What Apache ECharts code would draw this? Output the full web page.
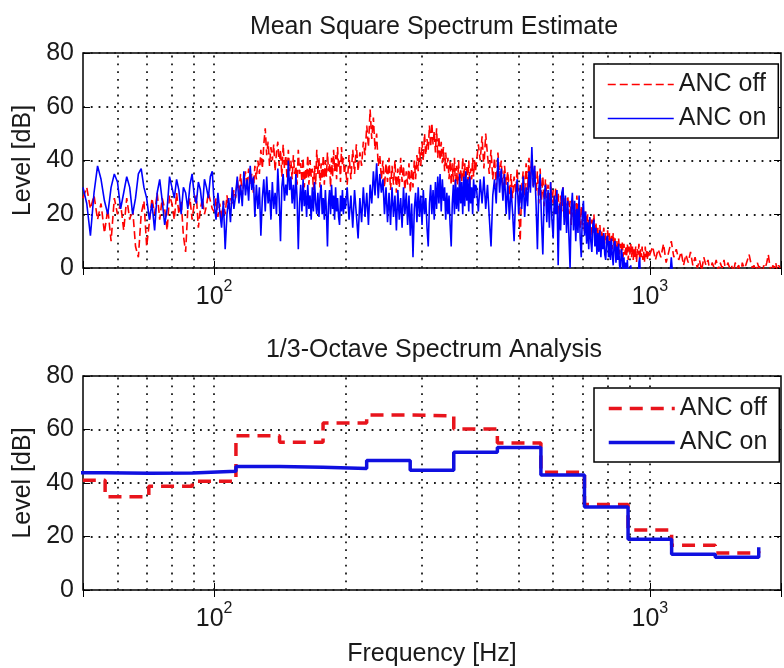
<!DOCTYPE html>
<html><head><meta charset="utf-8">
<script src="https://cdn.jsdelivr.net/npm/echarts@6/dist/echarts.min.js"></script>
<style>html,body{margin:0;padding:0;background:#fff}#c{width:784px;height:668px}</style>
</head><body><div id="c"></div>
<script>
const FONT = '"Liberation Sans", Arial, Helvetica, sans-serif';
const TXT = '#1a1a1a';

// Mean square spectrum: frequency bins given as (start Hz, step Hz, count)
const binStart = [50, 100, 200, 400, 1000];
const binStep  = [1, 1, 2, 4, 15];
const binCount = [50, 100, 100, 150, 67];

// Mean square spectrum levels [dB], ANC off
const mssOff = [
  // 50-99 Hz
  26,30,22,27,18,24,13,22,10,26, 20,24,14,26,18,22,8,4,20,25, 8,17,26,20,28,18,26,22,14,27,
  24,18,28,20,25,12,6,22,26,18, 24,27,15,22,26,20,23,28,25,22,
  // 100-199 Hz
  21,26,19,24,18,25,20,27,22,26, 24,29,26,33,28,35,27,32,36,30, 37,31,35,28,38,33,40,35,44,37,
  46,52,42,47,38,45,40,46,36,43, 47,38,44,34,46,37,42,33,44,36, 40,33,42,35,38,31,44,35,39,32,
  41,30,37,33,42,31,40,34,37,29, 38,31,44,35,41,30,39,33,42,31, 40,34,43,36,39,30,41,34,44,36,
  42,33,45,37,40,32,45,38,41,35,
  // 200-398 Hz
  38,31,42,33,44,35,46,36,43,38, 47,42,53,45,59,48,56,44,50,38, 42,33,40,30,39,32,41,29,38,31,
  40,28,37,30,41,32,38,29,36,31, 39,28,37,30,40,33,42,36,45,38, 47,40,50,42,48,44,53,45,54,46,
  51,43,52,41,49,40,47,39,45,36, 43,37,41,33,40,31,39,32,41,30, 38,31,40,30,37,32,41,33,39,30,
  38,32,40,31,37,33,41,34,40,36,
  // 400-996 Hz
  36,46,40,49,37,50,42,35,44,33, 41,30,43,34,40,29,38,31,36,27, 35,26,34,28,37,24,10,30,36,27,
  39,29,41,33,42,30,38,28,36,24, 37,25,34,23,33,26,31,22,32,24, 29,20,30,22,28,18,27,21,30,19,
  26,17,27,20,25,16,26,19,24,17, 27,18,25,15,23,16,22,13,21,14, 20,12,19,11,18,13,20,12,17,10,
  15,10,16,9,14,11,15,9,13,10, 14,8,13,9,12,7,13,8,11,7, 10,6,11,5,9,6,10,4,9,5,
  8,4,9,3,8,5,9,4,8,3, 7,4,8,2,7,5,9,3,7,4, 8,3,6,2,8,4,7,3,6,4,
  // 1000-1990 Hz
  5,8,3,7,4,9,2,6,10,4, 7,3,6,1,5,2,6,1,4,0, 3,-1,4,1,3,-2,2,0,3,-1, 2,0,3,-2,2,0,1,-2,2,0,
  1,-3,2,0,1,3,5,2,0,1, -2,2,0,1,-3,1,0,2,5,1, -2,1,0,2,-1,1,0
];
// Mean square spectrum levels [dB], ANC on
const mssOn = [
  // 50-99 Hz
  30,24,12,28,38,33,25,20,30,35, 32,22,28,34,30,20,26,35,37,30, 26,18,24,14,28,33,25,16,22,34,
  30,26,33,29,20,30,28,22,31,35, 27,24,32,29,22,33,30,26,34,36,
  // 100-199 Hz
  24,18,28,21,15,25,7,20,26,17, 30,22,27,34,24,31,23,36,27,33, 25,38,29,34,19,31,22,30,12,26,
  33,21,34,24,29,18,32,22,28,20, 37,26,10,30,35,25,31,27,40,29, 34,24,31,22,35,26,7,24,31,21,
  33,23,29,19,31,22,27,18,30,21, 32,24,20,28,19,27,31,20,26,18, 29,21,8,24,29,20,31,22,27,18,
  30,21,26,19,16,27,21,29,20,26,
  // 200-398 Hz
  22,30,18,27,15,29,20,11,26,17, 30,19,28,16,31,24,36,27,39,26, 35,28,33,20,30,17,28,16,30,19,
  27,14,29,18,26,15,30,20,28,16, 27,12,24,4,22,28,17,30,19,27, 16,29,20,26,15,8,24,31,20,29,
  18,32,22,34,24,35,21,33,25,30, 18,28,20,27,16,8,24,31,20,33, 22,30,21,35,24,32,20,34,23,36,
  25,33,21,34,24,30,20,33,26,31,
  // 400-996 Hz
  30,21,33,24,34,22,31,19,8,27, 33,24,41,28,37,25,35,20,32,18, 30,21,10,27,33,20,31,22,34,19,
  30,23,36,28,45,30,38,24,7,29, 35,18,5,27,31,17,29,15,32,18, 11,27,20,29,1,24,14,28,30,16,
  27,13,25,12,0,22,28,14,25,10, 22,13,27,11,4,20,25,12,21,9, 17,7,19,10,6,16,18,8,15,5,
  13,6,14,4,12,7,13,5,3,11, 12,4,10,3,11,5,1,9,10,2, 8,3,9,1,-1,7,5,-2,4,-3,
  2,-4,3,-5,0,-6,1,-7,-3,-9, -1,-10,-5,-11,-6,-12,2,4,-8,-12, -9,-13,-10,-14,-11,-13,-10,-14,-11,-13,
  // 1000-1990 Hz
  -6,-10,-3,-12,-8,-14,-6,-10,4,-8, -14,-10,-16,-12,-18,-14,-20,-15,-18,-22,
  -16,-20,-24,-18,-22,-20,-25,-19,-23,-21, -26,-20,-24,-22,-27,-21,-25,-23,-28,-22,
  -26,-24,-28,-23,-27,-25,-29,-24,-28,-26, -30,-25,-29,-27,-30,-26,-30,-28,-31,-27,
  -30,-29,-32,-28,-31,-29,-32
];

// 1/3-octave analysis: band lower edges [Hz] (last entry = upper edge of last band)
const bandEdges = [44.7, 56.2, 70.8, 89.1, 112.2, 141.3, 177.8, 223.9, 281.8, 354.8, 446.7, 562.3, 707.9, 891.3, 1122, 1413, 1778];
const octOff = [41.0, 34.9, 38.8, 40.7, 57.7, 55.2, 62.4, 65.4, 65.1, 60.2, 55.0, 44.0, 32.0, 22.4, 16.7, 13.8, 14.5];
const octOn  = [43.8, 43.6, 43.7, 44.4, 46.2, 45.9, 45.4, 48.4, 44.8, 51.5, 53.3, 43.0, 31.0, 19.0, 13.4, 12.2, 16.0];

// axis settings
const freqMin = 50, freqMax = 2000;
const levelMin = 0, levelMax = 80, levelStep = 20;
const gridFreqs = [60, 70, 80, 90, 100, 200, 300, 400, 500, 600, 700, 800, 900, 1000];

const mssFreq = [];
binStart.forEach((s, i) => { for (let k = 0; k < binCount[i]; k++) mssFreq.push(s + k * binStep[i]); });

const chart = echarts.init(document.getElementById('c'), null, {renderer: 'canvas'});

const dotted = {color: '#1c1c1c', width: 1.8, type: [1.8, 6]};
const GRIDS = [{left: 83, top: 53, width: 705, height: 215}, {left: 83, top: 376, width: 705, height: 215}];

function xAxes(gi) {
  const base = {
    type: 'log', logBase: 10, min: freqMin, max: freqMax, gridIndex: gi,
    axisLine: {show: false}, splitLine: {show: false}, minorTick: {show: false}
  };
  return [
    Object.assign({}, base, {
      position: 'bottom',
      axisTick: {show: true, inside: true, length: 7, lineStyle: {color: '#000', width: 1}},
      axisLabel: {
        margin: 11,
        formatter: v => {
          const e = Math.log10(v), r = Math.round(e);
          return Math.abs(e - r) < 1e-6 ? '{b|10}{s|' + r + '}' : '';
        },
        rich: {
          b: {fontSize: 25, fontFamily: FONT, color: TXT, verticalAlign: 'bottom'},
          s: {fontSize: 16, fontFamily: FONT, color: TXT, padding: [0, 0, 15, 0], verticalAlign: 'bottom'}
        }
      },
      name: gi === 1 ? 'Frequency [Hz]' : '', nameLocation: 'middle', nameGap: 52,
      nameTextStyle: {fontSize: 25, fontFamily: FONT, color: TXT}
    }),
    Object.assign({}, base, {
      position: 'top',
      axisTick: {show: true, inside: true, length: 7, lineStyle: {color: '#000', width: 1}},
      axisLabel: {show: false}
    })
  ];
}
function yAxes(gi) {
  const base = {type: 'value', min: levelMin, max: levelMax, interval: levelStep, gridIndex: gi, axisLine: {show: false}};
  return [
    Object.assign({}, base, {
      position: 'left',
      axisTick: {show: true, inside: true, length: 7, lineStyle: {color: '#000', width: 1}},
      axisLabel: {margin: 9, fontSize: 25, fontFamily: FONT, color: TXT},
      splitLine: {show: true, lineStyle: dotted},
      name: 'Level [dB]', nameLocation: 'middle', nameGap: 46, nameRotate: 90,
      nameTextStyle: {fontSize: 25, fontFamily: FONT, color: TXT}
    }),
    Object.assign({}, base, {
      position: 'right',
      axisTick: {show: true, inside: true, length: 7, lineStyle: {color: '#000', width: 1}},
      axisLabel: {show: false}, splitLine: {show: false}
    })
  ];
}

function vGridMarks() {
  return {
    silent: true, symbol: 'none', z: 1, animation: false,
    label: {show: false}, emphasis: {disabled: true},
    lineStyle: dotted,
    data: gridFreqs.map(f => ({xAxis: f}))
  };
}

function legendFor(top, names, lineWidth) {
  return {
    orient: 'vertical', left: 594, top: top,
    data: names,
    formatter: n => n.replace(' (1/3)', ''),
    itemWidth: 66, itemHeight: 4, itemGap: 9,
    padding: [8, 12, 7, 13],
    backgroundColor: '#fff', borderColor: '#000', borderWidth: 1.5, borderRadius: 0,
    itemStyle: {opacity: 0},
    lineStyle: {width: lineWidth},
    textStyle: {fontSize: 25, fontFamily: FONT, color: TXT},
    selectedMode: false
  };
}

const option = {
  animation: false,
  backgroundColor: '#fff',
  textStyle: {fontFamily: FONT},
  title: [
    {text: 'Mean Square Spectrum Estimate', left: 434, top: 15, textAlign: 'center', padding: 0,
     textStyle: {fontSize: 25, fontWeight: 'normal', fontFamily: FONT, color: TXT}},
    {text: '1/3-Octave Spectrum Analysis', left: 434, top: 338, textAlign: 'center', padding: 0,
     textStyle: {fontSize: 25, fontWeight: 'normal', fontFamily: FONT, color: TXT}}
  ],
  grid: GRIDS.map(g => Object.assign({show: true, borderColor: '#000', borderWidth: 1.5, backgroundColor: 'transparent'}, g)),
  xAxis: [].concat(xAxes(0), xAxes(1)),
  yAxis: [].concat(yAxes(0), yAxes(1)),
  legend: [
    legendFor(64, ['ANC off', 'ANC on'], 1.5),
    legendFor(388, ['ANC off (1/3)', 'ANC on (1/3)'], 3.5)
  ],
  series: [
    {
      name: 'ANC off', type: 'line', xAxisIndex: 0, yAxisIndex: 0,
      data: mssFreq.map((f, i) => [f, mssOff[i]]),
      symbol: 'none', clip: true, sampling: null,
      itemStyle: {color: '#ff0000'},
      lineStyle: {color: '#ff0000', width: 1.6, type: [8, 4]},
      markLine: vGridMarks()
    },
    {
      name: 'ANC on', type: 'line', xAxisIndex: 0, yAxisIndex: 0,
      data: mssFreq.map((f, i) => [f, mssOn[i]]),
      symbol: 'none', clip: true, sampling: null,
      itemStyle: {color: '#0000ff'},
      lineStyle: {color: '#0000ff', width: 1.6}
    },
    {
      name: 'ANC off (1/3)', type: 'line', xAxisIndex: 2, yAxisIndex: 2,
      data: bandEdges.map((f, i) => [f, octOff[i]]),
      step: 'end', symbol: 'none', clip: true,
      itemStyle: {color: '#e8141c'},
      lineStyle: {color: '#e8141c', width: 3.5, type: [13, 8]},
      markLine: vGridMarks()
    },
    {
      name: 'ANC on (1/3)', type: 'line', xAxisIndex: 2, yAxisIndex: 2,
      data: bandEdges.map((f, i) => [f, octOn[i]]),
      step: 'end', symbol: 'none', clip: true,
      itemStyle: {color: '#1010e0'},
      lineStyle: {color: '#1010e0', width: 3.5}
    }
  ]
};
chart.setOption(option);
</script>
</body></html>
